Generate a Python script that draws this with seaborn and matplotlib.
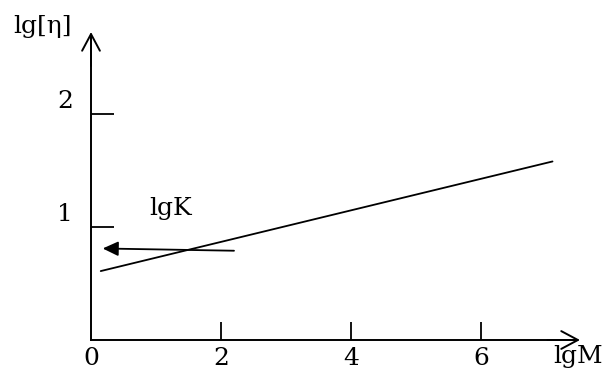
import matplotlib
matplotlib.use('Agg')
import matplotlib.pyplot as plt
import matplotlib.transforms as mtransforms
import seaborn as sns

# straight line lg[eta] = lgK + a*lgM  (schematic)
lg_m = [0.15, 7.1]
lg_eta = [0.61, 1.58]

# arrow pointing at the intercept lgK
lgk_tail = (2.2, 0.79)
lgk_head = (0.18, 0.81)

x_ticks = [0, 2, 4, 6]
x_labels = ['0', '2', '4', '6']
y_ticks = [1, 2]
y_labels = ['1', '2']

sns.set_style('white')
plt.rcParams['font.family'] = ['DejaVu Serif']
plt.rcParams['font.size'] = 18
plt.rcParams['text.color'] = 'black'
plt.rcParams['xtick.labelcolor'] = 'black'
plt.rcParams['ytick.labelcolor'] = 'black'

fig = plt.figure(figsize=(6.05, 3.73), dpi=100)
ax = fig.add_axes([0, 0, 1, 1])
ax.set_facecolor('none')

sns.lineplot(x=lg_m, y=lg_eta, color='black', lw=1.3, ax=ax)

# pixel mapping: origin at (91, 340), 65 px per lgM unit, 113 px per lg[eta] unit
ax.set_xlim(-91 / 65, (605 - 91) / 65)
ax.set_ylim(-33 / 113, 340 / 113)

x_end = (580 - 91) / 65
y_end = (340 - 32) / 113

for side in ['top', 'right']:
    ax.spines[side].set_visible(False)
ax.spines['left'].set_position(('data', 0))
ax.spines['bottom'].set_position(('data', 0))
ax.spines['left'].set_bounds(0, y_end - 0.05)
ax.spines['bottom'].set_bounds(0, x_end - 0.05)
for side in ['left', 'bottom']:
    ax.spines[side].set_linewidth(1.4)
    ax.spines[side].set_color('black')

ax.annotate('', xy=(x_end, 0), xytext=(x_end - 0.5, 0),
            arrowprops=dict(arrowstyle='->,head_length=0.6,head_width=0.32',
                            lw=1.4, color='black', mutation_scale=20,
                            shrinkA=0, shrinkB=0))
ax.annotate('', xy=(0, y_end), xytext=(0, y_end - 0.3),
            arrowprops=dict(arrowstyle='->,head_length=0.6,head_width=0.32',
                            lw=1.4, color='black', mutation_scale=20,
                            shrinkA=0, shrinkB=0))

ax.set_xticks(x_ticks)
ax.set_xticklabels(x_labels)
ax.set_yticks(y_ticks)
ax.set_yticklabels(y_labels)
ax.tick_params(axis='x', direction='in', length=13, width=1.3, color='black',
               pad=5, labelsize=18, bottom=True, labelcolor='black')
ax.tick_params(axis='y', direction='in', length=16.5, width=1.3, color='black',
               pad=13, labelsize=18, left=True, labelcolor='black')
ax.xaxis.get_major_ticks()[0].tick1line.set_visible(False)

shift = mtransforms.ScaledTranslation(0, 15 / 100, fig.dpi_scale_trans)
for lab in ax.get_yticklabels():
    lab.set_transform(lab.get_transform() + shift)

# arrow to lgK
ax.annotate('', xy=lgk_head, xytext=lgk_tail,
            arrowprops=dict(arrowstyle='-|>,head_length=0.47,head_width=0.22',
                            lw=1.3, color='black', mutation_scale=20,
                            shrinkA=0, shrinkB=0))
ax.text(1.23, 1.16, 'lgK', ha='center', va='center', fontsize=18, color='black')

fig.text(42 / 605, 1 - 26 / 373, 'lg[η]', ha='center', va='center', fontsize=18, color='black')
fig.text(578 / 605, 1 - 357 / 373, 'lgM', ha='center', va='center', fontsize=18, color='black')

fig.savefig('out.png', dpi=100)
